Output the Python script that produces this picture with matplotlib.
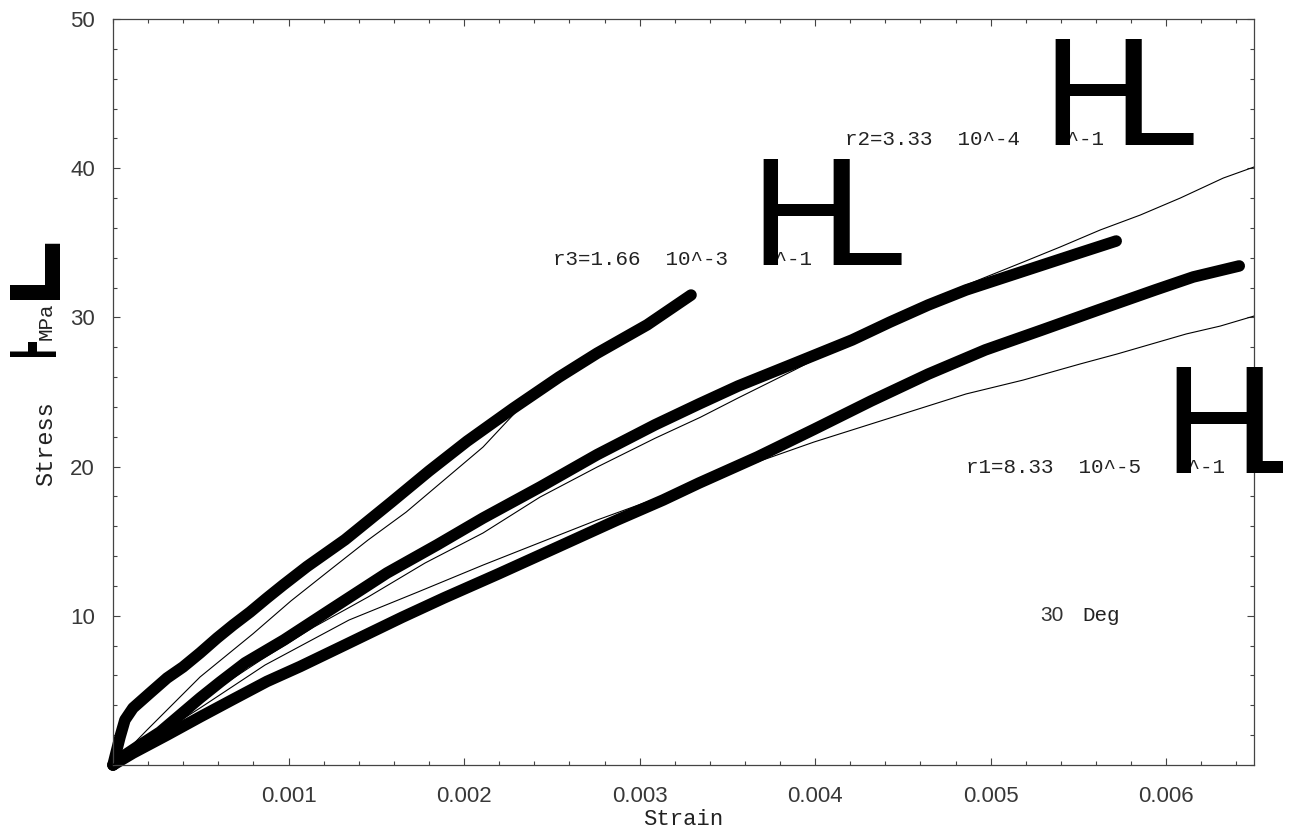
import matplotlib
matplotlib.use("Agg")
import matplotlib.pyplot as plt
from matplotlib.ticker import FixedLocator, MultipleLocator, FuncFormatter
from matplotlib.transforms import Bbox

# ---------------- data ----------------
# r3 = 1.66e-3 s^-1 : experiment (thick) and model (thin)
r3_exp_strain = [0, 0.0000285, 0.00004, 0.000068, 0.000114, 0.000211, 0.000308, 0.000399,
                 0.000496, 0.000593, 0.000684, 0.000781, 0.000877, 0.000969, 0.001105, 0.001322,
                 0.001584, 0.0018, 0.002017, 0.002279, 0.002541, 0.002758, 0.003043, 0.003293]
r3_exp_stress = [0, 1.34, 1.88, 3.02, 3.82, 4.83, 5.83, 6.57, 7.51, 8.51, 9.38, 10.25,
                 11.19, 12.06, 13.3, 15.1, 17.6, 19.7, 21.7, 23.9, 26.0, 27.6, 29.5, 31.5]
r3_fit_strain = [0, 0.000194, 0.000496, 0.000798, 0.001014, 0.001236, 0.001453, 0.00167,
                 0.001886, 0.002108, 0.00229]
r3_fit_stress = [0, 2.35, 5.9, 8.8, 11.0, 13.07, 15.08, 16.95, 19.1, 21.31, 23.6]

# r2 = 3.33e-4 s^-1
r2_exp_strain = [0, 0.0000684, 0.000154, 0.000268, 0.000382, 0.000496, 0.00061, 0.000752,
                 0.000974, 0.001236, 0.001561, 0.001846, 0.002108, 0.002433, 0.002758, 0.003088,
                 0.003339, 0.003561, 0.003886, 0.004211, 0.004427, 0.004644, 0.00486, 0.005185,
                 0.00551, 0.005715]
r2_exp_stress = [0, 0.67, 1.34, 2.21, 3.35, 4.49, 5.56, 6.84, 8.38, 10.39, 12.87, 14.75,
                 16.55, 18.63, 20.8, 22.8, 24.2, 25.4, 26.94, 28.49, 29.69, 30.83, 31.84,
                 33.09, 34.34, 35.12]
r2_fit_strain = [0, 0.000211, 0.000496, 0.000843, 0.001145, 0.001453, 0.001778, 0.002108,
                 0.002433, 0.002758, 0.003088, 0.003345, 0.003561, 0.003886, 0.004211, 0.004536,
                 0.00486, 0.005185, 0.005396, 0.005624, 0.005852, 0.00608, 0.006325, 0.0065]
r2_fit_stress = [0, 1.81, 4.36, 7.04, 9.25, 11.26, 13.54, 15.55, 17.96, 19.97, 21.9, 23.3,
                 24.6, 26.5, 28.49, 30.5, 32.17, 33.71, 34.72, 35.86, 36.86, 38.0, 39.34, 40.08]

# r1 = 8.33e-5 s^-1
r1_exp_strain = [0, 0.000114, 0.000308, 0.000496, 0.000684, 0.000877, 0.001066, 0.001322,
                 0.001647, 0.001886, 0.002194, 0.002541, 0.002872, 0.003134, 0.003339, 0.00367,
                 0.003994, 0.004319, 0.004644, 0.004969, 0.005293, 0.005613, 0.005937, 0.006154,
                 0.006416]
r1_exp_stress = [0, 0.8, 2.01, 3.22, 4.4, 5.6, 6.6, 8.05, 9.9, 11.2, 12.8, 14.65, 16.42,
                 17.76, 18.9, 20.64, 22.5, 24.4, 26.2, 27.82, 29.16, 30.5, 31.84, 32.71, 33.45]
r1_fit_strain = [0, 0.000211, 0.000496, 0.000866, 0.001345, 0.001738, 0.002108, 0.002325,
                 0.002758, 0.003151, 0.00367, 0.003994, 0.004427, 0.00486, 0.005185, 0.00551,
                 0.005721, 0.006114, 0.006308, 0.0065]
r1_fit_stress = [0, 1.68, 3.82, 6.7, 9.72, 11.6, 13.4, 14.41, 16.42, 18.1, 20.31, 21.65,
                 23.26, 24.87, 25.8, 26.88, 27.55, 28.89, 29.42, 30.09]

x_major = [0.001, 0.002, 0.003, 0.004, 0.005, 0.006]
y_major = [10, 20, 30, 40, 50]
x_label = "Strain"
y_label_parts = ["Stress", "MPa"]
rate_labels = [("r3=1.66  10^-3", "s^-1"), ("r2=3.33  10^-4", "s^-1"), ("r1=8.33  10^-5", "s^-1")]
angle_label = ("30", "Deg")

# ---------------- figure ----------------
W, H = 1295, 834
fig = plt.figure(figsize=(W / 100, H / 100), dpi=100)
L_, R_, T_, B_ = 113, 1254, 19, 765
ax = fig.add_axes([L_ / W, 1 - B_ / H, (R_ - L_) / W, (B_ - T_) / H])

MONO = "Liberation Mono"
SANS = "Liberation Sans"
frame_col = "#444444"
text_col = "#222222"

thick = dict(color="black", lw=8.3, solid_capstyle="round", solid_joinstyle="round",
             clip_on=False, zorder=2)
thin = dict(color="black", lw=0.8, zorder=3)

ax.plot(r3_exp_strain, r3_exp_stress, **thick)
ax.plot(r2_exp_strain, r2_exp_stress, **thick)
ax.plot(r1_exp_strain, r1_exp_stress, **thick)
ax.plot(r3_fit_strain, r3_fit_stress, **thin)
ax.plot(r2_fit_strain, r2_fit_stress, **thin)
ax.plot(r1_fit_strain, r1_fit_stress, **thin)

ax.set_xlim(0, 0.0065)
ax.set_ylim(0, 50)
ax.xaxis.set_major_locator(FixedLocator(x_major))
ax.xaxis.set_minor_locator(MultipleLocator(0.0002))
ax.yaxis.set_major_locator(FixedLocator(y_major))
ax.yaxis.set_minor_locator(MultipleLocator(2))
ax.xaxis.set_major_formatter(FuncFormatter(lambda v, p: f"{v:.3f}"))
ax.yaxis.set_major_formatter(FuncFormatter(lambda v, p: f"{v:.0f}"))
ax.tick_params(which="both", direction="in", top=True, right=True, color=frame_col, width=0.8)
ax.tick_params(which="major", length=5)
ax.tick_params(which="minor", length=2.8)
ax.tick_params(axis="x", which="major", pad=15, labelsize=16, labelcolor="#383838")
ax.tick_params(axis="y", which="major", pad=13, labelsize=16, labelcolor="#383838")
for lab in ax.get_xticklabels() + ax.get_yticklabels():
    lab.set_fontfamily(SANS)
for sp in ax.spines.values():
    sp.set_color(frame_col)
    sp.set_linewidth(0.9)

ax.set_xlabel(x_label, fontfamily=MONO, fontsize=16, color=text_col, va="baseline")
ax.xaxis.set_label_coords(0.5, -(825 - B_) / (B_ - T_))


def px(x, y):
    return x / W, 1 - y / H


def ftext(x, y, s, **kw):
    return fig.text(*px(x, y), s, **kw)


# y label (rotated) with the odd large bracket glyphs
rot = dict(rotation=90, rotation_mode="anchor", ha="left", va="baseline")
ftext(52, 486, y_label_parts[0], fontfamily=MONO, fontsize=17, color=text_col, **rot)
ftext(52, 340, y_label_parts[1], fontfamily=MONO, fontsize=15, color=text_col, **rot)
hb = ftext(51, 363, "H", fontfamily="DejaVu Sans", fontweight="bold", fontsize=45,
           color="black", zorder=4, **rot)
hb.set_clip_box(Bbox.from_extents(8, H - 357, 60, H - 342))
hb.set_clip_on(True)
lb = ftext(53, 308, "L", fontfamily="DejaVu Sans", fontweight="bold", fontsize=90,
           color="black", zorder=4, **rot)
lb.set_clip_box(Bbox.from_extents(10, H - 300, 60, H - 228))
lb.set_clip_on(True)

# strain-rate annotations
label_pos = [(553, 265), (845, 145), (966, 473)]
for i, ((txt, unit), (x0, yb)) in enumerate(zip(rate_labels, label_pos)):
    ftext(x0, yb, txt, fontfamily=MONO, fontsize=15, color=text_col, ha="left", va="baseline")
    hx = x0 + 209
    ftext(hx, yb, unit, fontfamily=MONO, fontsize=15, color=text_col, ha="left",
          va="baseline", zorder=3)
    ftext(hx - 12, yb, "H", fontfamily=SANS, fontsize=111, color="black", ha="left",
          va="baseline", zorder=4)
    lt = ftext(hx + 70 - 12, yb, "L", fontfamily=SANS, fontsize=111, color="black", ha="left",
               va="baseline", zorder=4)
    if i == 2:
        lt.set_clip_box(Bbox.from_extents(0, 0, 1283, H))
        lt.set_clip_on(True)

ftext(1040, 621, angle_label[0], fontfamily=SANS, fontsize=15, color="#333333",
      ha="left", va="baseline")
ftext(1082, 621, angle_label[1], fontfamily=MONO, fontsize=15, color=text_col,
      ha="left", va="baseline")

fig.savefig("out.png", dpi=100)
